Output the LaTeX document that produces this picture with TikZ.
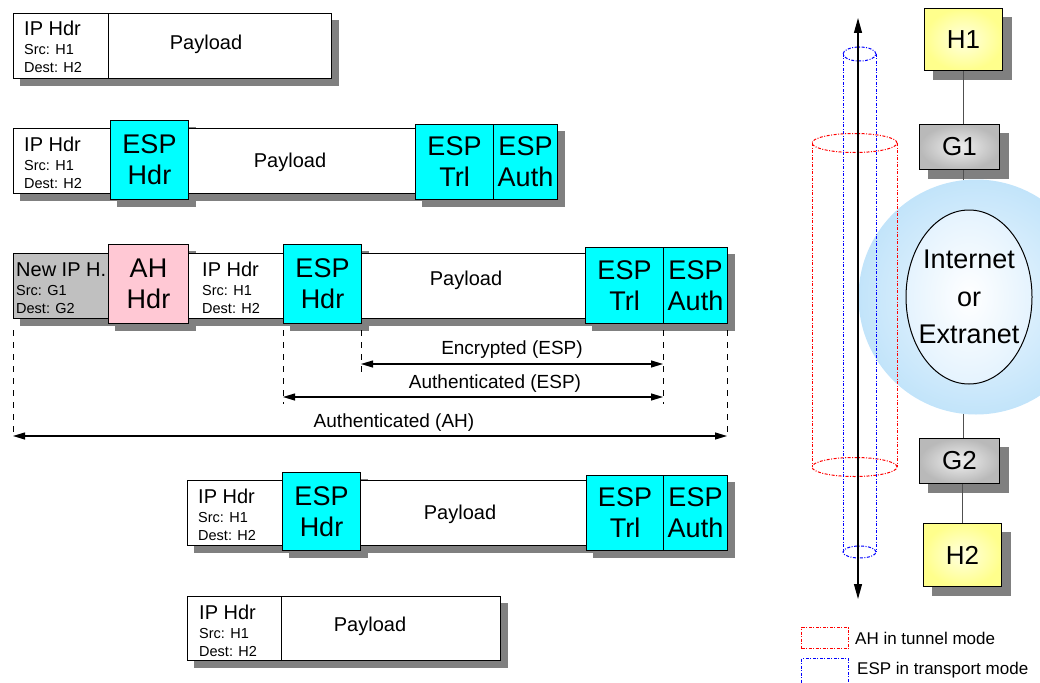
\documentclass[tikz,border=0pt]{standalone}
\usepackage{fontspec}
\setmainfont{Liberation Sans}
\usetikzlibrary{arrows.meta,shapes.geometric,backgrounds}
\definecolor{shadowgray}{HTML}{808080}
\definecolor{espcyan}{HTML}{00FFFF}
\definecolor{ahpink}{HTML}{FFC8D4}
\definecolor{newipgray}{HTML}{C0C0C0}
\definecolor{linkgray}{HTML}{505050}
\definecolor{cloudout}{HTML}{C2E4FA}
\definecolor{cloudin}{HTML}{F0F8FF}
\definecolor{tunnelred}{HTML}{FF0000}
\definecolor{transblue}{HTML}{0000FF}
\tikzset{
  pkt/.style={draw=black, line width=1pt, inner sep=0pt, anchor=north west},
  plain/.style={pkt, fill=white},
  esp/.style={pkt, fill=espcyan, align=center, font=\fontsize{27}{31}\selectfont},
  ah/.style={pkt, fill=ahpink, align=center, font=\fontsize{27}{31}\selectfont},
  newip/.style={pkt, fill=newipgray},
  hdrbig/.style={inner sep=0pt, anchor=base west, font=\fontsize{20}{24}\selectfont},
  hdrsmall/.style={inner sep=0pt, anchor=base west, font=\fontsize{14.5}{17}\selectfont},
  payload/.style={inner sep=0pt, font=\fontsize{20}{24}\selectfont},
  span/.style={inner sep=0pt, font=\fontsize{19}{22}\selectfont},
  guide/.style={line width=0.8pt, dash pattern=on 6pt off 6pt},
  bracket/.style={line width=1.1pt, {Triangle[length=12pt,width=7pt]}-{Triangle[length=12pt,width=7pt]}},
  gate/.style={draw=black, line width=1pt, inner sep=0pt, anchor=north west,
    font=\fontsize{26}{30}\selectfont, shading=radial, inner color=gray!12, outer color=gray!55},
  host/.style={gate, inner color=yellow!12, outer color=yellow!45},
  boxshadow/.style={fill=shadowgray, draw=none},
  link/.style={draw=linkgray, line width=1.5pt},
  tunnel/.style={draw=tunnelred, line width=1pt, dash pattern=on 3pt off 1.5pt on 1pt off 1.5pt},
  transport/.style={draw=transblue, line width=1pt, dash pattern=on 3pt off 1.5pt on 1pt off 1.5pt},
  legendtxt/.style={inner sep=0pt, anchor=west, font=\fontsize{17}{20}\selectfont},
}
\begin{document}
\begin{tikzpicture}[x=1pt, y=-1pt]
\useasboundingbox (0,0) rectangle (1040,682);

% ---------- original packet ----------
\node[plain, minimum width=95pt, minimum height=65pt] (r1ip) at (13,13) {};
\node[plain, minimum width=223pt, minimum height=65pt] (r1pl) at (108,13) {};
\node[hdrbig] (r1a) at (24,36) {IP Hdr};
\node[hdrsmall] (r1b) at (24,55) {Src: H1};
\node[hdrsmall] (r1c) at (24,73) {Dest: H2};
\node[payload] (r1p) at (206,44) {Payload};

% ---------- ESP in transport mode ----------
\node[plain, minimum width=97pt, minimum height=65pt] (r2ip) at (13,128) {};
\node[esp, minimum width=78pt, minimum height=79pt] (r2eh) at (110,120) {ESP\\Hdr};
\node[plain, minimum width=227pt, minimum height=65pt] (r2pl) at (188,128) {};
\node[esp, minimum width=78pt, minimum height=75pt] (r2et) at (415,124) {ESP\\Trl};
\node[esp, minimum width=64pt, minimum height=75pt] (r2ea) at (493,124) {ESP\\Auth};
\node[hdrbig] (r2a) at (24,151) {IP Hdr};
\node[hdrsmall] (r2b) at (24,170) {Src: H1};
\node[hdrsmall] (r2c) at (24,188) {Dest: H2};
\node[payload] (r2p) at (290,162) {Payload};

% ---------- AH tunnel around ESP transport ----------
\node[newip, minimum width=95pt, minimum height=65pt] (r3nip) at (13,253) {};
\node[ah, minimum width=80pt, minimum height=79pt] (r3ah) at (108,244) {AH\\Hdr};
\node[plain, minimum width=95pt, minimum height=65pt] (r3ip) at (188,253) {};
\node[esp, minimum width=78pt, minimum height=79pt] (r3eh) at (283,244) {ESP\\Hdr};
\node[plain, minimum width=224pt, minimum height=65pt] (r3pl) at (361,253) {};
\node[esp, minimum width=78pt, minimum height=76pt] (r3et) at (585,247) {ESP\\Trl};
\node[esp, minimum width=64pt, minimum height=76pt] (r3ea) at (663,247) {ESP\\Auth};
\node[hdrbig] (r3na) at (16,276) {New IP H.};
\node[hdrsmall] (r3nb) at (16,295) {Src: G1};
\node[hdrsmall] (r3nc) at (16,313) {Dest: G2};
\node[hdrbig] (r3a) at (202,276) {IP Hdr};
\node[hdrsmall] (r3b) at (202,295) {Src: H1};
\node[hdrsmall] (r3c) at (202,313) {Dest: H2};
\node[payload] (r3p) at (466,280) {Payload};

% coverage guides
\coordinate (g13t) at (13,330);   \coordinate (g13b) at (13,437);
\coordinate (g283t) at (283,330); \coordinate (g283b) at (283,404);
\coordinate (g361t) at (361,330); \coordinate (g361b) at (361,372);
\coordinate (g663t) at (663,330); \coordinate (g663b) at (663,404);
\coordinate (g727t) at (727,330); \coordinate (g727b) at (727,437);
\foreach \g in {13,283,361,663,727} \draw[guide] (g\g t) -- (g\g b);

\coordinate (encL) at (361,364); \coordinate (encR) at (663,364);
\coordinate (aeL) at (283,397);  \coordinate (aeR) at (663,397);
\coordinate (aaL) at (13,436);   \coordinate (aaR) at (727,436);
\draw[bracket] (encL) -- (encR);
\draw[bracket] (aeL) -- (aeR);
\draw[bracket] (aaL) -- (aaR);
\node[span] (lenc) at (512,350) {Encrypted (ESP)};
\node[span] (lae) at (495,384) {Authenticated (ESP)};
\node[span] (laa) at (394,423) {Authenticated (AH)};

% ---------- after leaving the tunnel ----------
\node[plain, minimum width=95pt, minimum height=65pt] (r4ip) at (187,480) {};
\node[esp, minimum width=78pt, minimum height=78pt] (r4eh) at (282,472) {ESP\\Hdr};
\node[plain, minimum width=226pt, minimum height=65pt] (r4pl) at (360,480) {};
\node[esp, minimum width=77pt, minimum height=75pt] (r4et) at (586,475) {ESP\\Trl};
\node[esp, minimum width=64pt, minimum height=75pt] (r4ea) at (663,475) {ESP\\Auth};
\node[hdrbig] (r4a) at (198,503) {IP Hdr};
\node[hdrsmall] (r4b) at (198,522) {Src: H1};
\node[hdrsmall] (r4c) at (198,540) {Dest: H2};
\node[payload] (r4p) at (460,514) {Payload};

% ---------- delivered packet ----------
\node[plain, minimum width=94pt, minimum height=64pt] (r5ip) at (187,596) {};
\node[plain, minimum width=219pt, minimum height=64pt] (r5pl) at (281,596) {};
\node[hdrbig] (r5a) at (199,619) {IP Hdr};
\node[hdrsmall] (r5b) at (199,638) {Src: H1};
\node[hdrsmall] (r5c) at (199,656) {Dest: H2};
\node[payload] (r5p) at (370,626) {Payload};

% ---------- network path ----------
\node[host, minimum width=78pt, minimum height=62pt] (h1) at (924,8) {H1};
\node[gate, minimum width=80pt, minimum height=45pt] (g1) at (919,124) {G1};
\node[gate, minimum width=80pt, minimum height=45pt] (g2) at (919,438) {G2};
\node[host, minimum width=78pt, minimum height=63pt] (h2) at (923,523) {H2};

% drop shadows, kept underneath every box
\begin{pgfonlayer}{background}
  \foreach \n in {r1ip,r1pl,r2ip,r2eh,r2pl,r2et,r2ea,r3nip,r3ah,r3ip,r3eh,r3pl,r3et,r3ea,
                  r4ip,r4eh,r4pl,r4et,r4ea,r5ip,r5pl}
    \fill[boxshadow] ([shift={(7pt,-7pt)}]\n.north west) rectangle ([shift={(7pt,-7pt)}]\n.south east);
  \foreach \n in {h1,g1,g2,h2}
    \fill[boxshadow] ([shift={(9pt,-9pt)}]\n.north west) rectangle ([shift={(9pt,-9pt)}]\n.south east);
  \draw[link] (h1.south) -- (h1.south |- g1.north);
  \draw[link] (g1.south -| h1.south) -- (g2.north -| h1.south);
  \draw[link] (h2.north |- g2.south) -- (h2.north);
\end{pgfonlayer}

\begin{scope}
  \clip (0,0) rectangle (1040,682);
  \node[circle, minimum size=235pt, inner sep=0pt, shading=radial,
        inner color=cloudin, outer color=cloudout] (cloud) at (976,297) {};
\end{scope}
\node[ellipse, draw=black, line width=1pt, minimum width=126pt, minimum height=174pt,
      inner sep=0pt, shading=radial, inner color=white, outer color=cloudin!75!cloudout] (net) at (969,297) {};
\node[align=center, inner sep=0pt, font=\fontsize{27}{37.5}\selectfont] (nettxt) at (net.center) {Internet\\or\\Extranet};

% AH tunnel cylinder (G1 to G2)
\draw[tunnel] (812,143) -- (812,467);
\draw[tunnel] (897,143) -- (897,467);
\draw[tunnel] (854.5,143) ellipse [x radius=42.5pt, y radius=9.5pt];
\draw[tunnel] (854.5,467) ellipse [x radius=42.5pt, y radius=9.5pt];
% ESP transport cylinder (H1 to H2)
\draw[transport] (843,54) -- (843,552);
\draw[transport] (876,54) -- (876,552);
\draw[transport] (859.5,54) ellipse [x radius=16.5pt, y radius=7pt];
\draw[transport] (859.5,552) ellipse [x radius=16.5pt, y radius=6pt];

\coordinate (pathtop) at (858,18);
\coordinate (pathbot) at (858,599);
\draw[line width=1.2pt, {Triangle[length=15pt,width=8pt]}-{Triangle[length=15pt,width=8pt]}] (pathtop) -- (pathbot);

% legend
\node[tunnel, minimum width=47pt, minimum height=21pt, inner sep=0pt, anchor=north west] (legah) at (801,627) {};
\node[transport, minimum width=47pt, minimum height=25pt, inner sep=0pt, anchor=north west] (legesp) at (801,658) {};
\node[legendtxt] (legahtxt) at (855,638) {AH in tunnel mode};
\node[legendtxt] (legesptxt) at (857,670) {ESP in transport mode};
\end{tikzpicture}
\end{document}
